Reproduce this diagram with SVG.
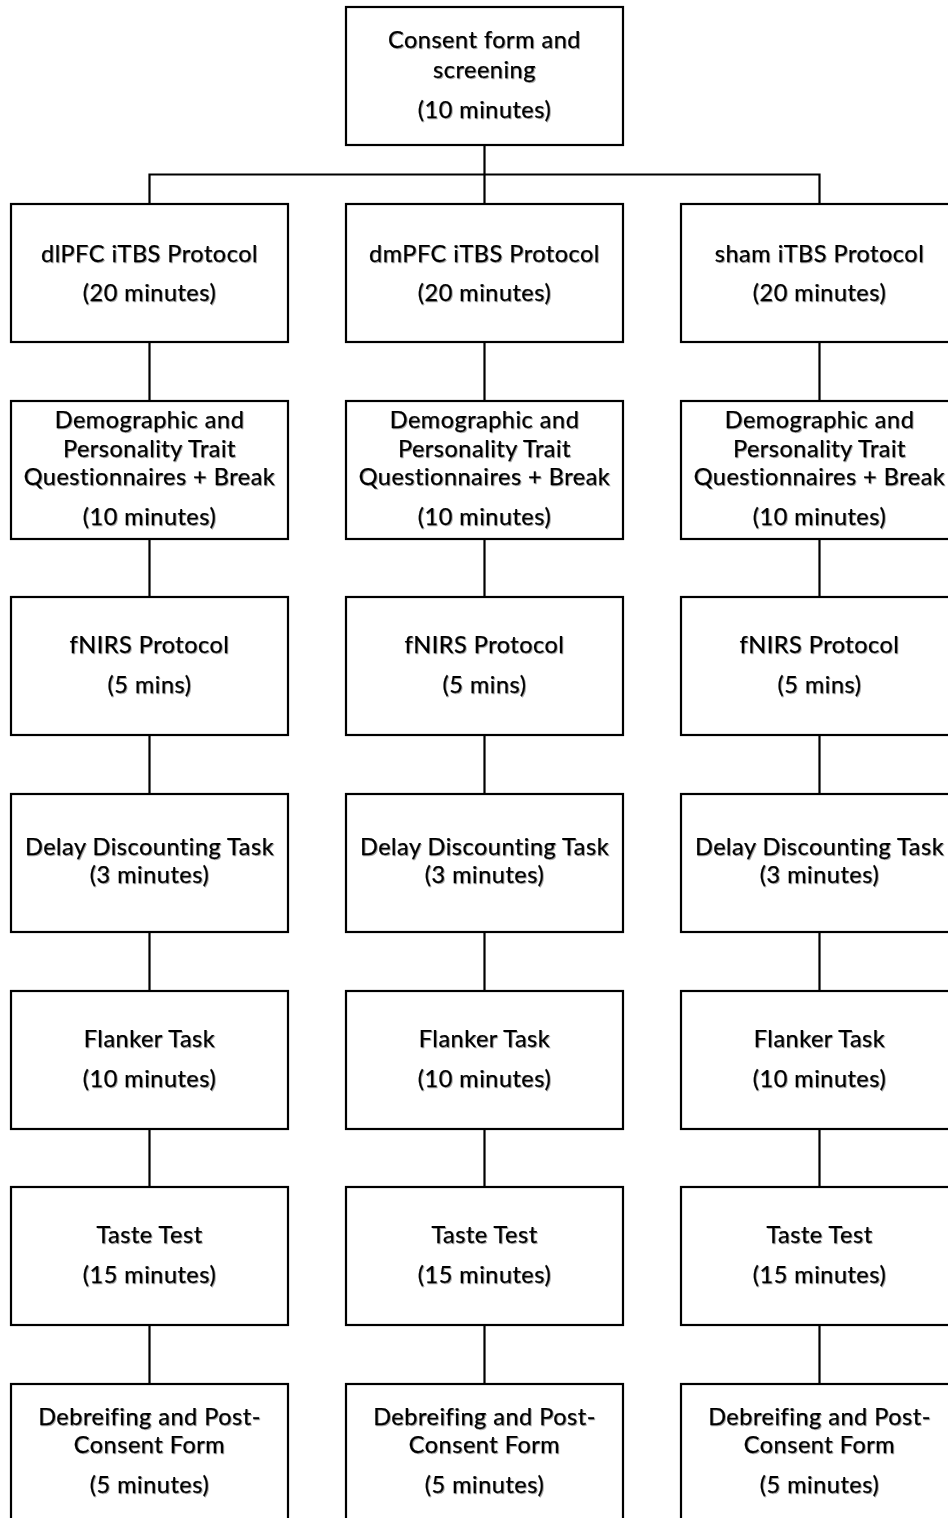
<svg xmlns="http://www.w3.org/2000/svg" width="948" height="1518" viewBox="0 0 948 1518">
<style>
.box{fill:#fff;stroke:#000;stroke-width:2.2}
.con{fill:none;stroke:#000;stroke-width:2.2}
text{font-family:Lato,"Liberation Sans",sans-serif;font-size:23.5px;letter-spacing:0.5px;font-variant-ligatures:none;fill:#000;stroke:#000;stroke-width:0.25;text-anchor:middle;filter:url(#sh)}
</style>
<defs>
<filter id="sh" x="-10%" y="-30%" width="120%" height="160%">
<feDropShadow dx="1" dy="1" stdDeviation="0.6" flood-color="#000" flood-opacity="0.35"/>
</filter>
</defs>
<rect width="948" height="1518" fill="#fff"/>
<g id="connectors">
<path class="con" d="M484.5 145V204M484.5 174.5H149.5V204M484.5 174.5H819.5V204"/>
<path class="con" d="M149.5 342V401M149.5 539V597M149.5 735V794M149.5 932V991M149.5 1129V1187M149.5 1325V1384"/>
<path class="con" d="M484.5 342V401M484.5 539V597M484.5 735V794M484.5 932V991M484.5 1129V1187M484.5 1325V1384"/>
<path class="con" d="M819.5 342V401M819.5 539V597M819.5 735V794M819.5 932V991M819.5 1129V1187M819.5 1325V1384"/>
</g>
<g id="consent"><rect class="box" x="346" y="7" width="277" height="138"/>
<text x="484.5" y="48">Consent form and</text><text x="484.5" y="78">screening</text><text x="484.5" y="118">(10 minutes)</text></g>

<g id="dlpfc"><rect class="box" x="11" y="204" width="277" height="138"/>
<text x="149.5" y="262">dlPFC iTBS Protocol</text><text x="149.5" y="301">(20 minutes)</text></g>
<g id="dmpfc"><rect class="box" x="346" y="204" width="277" height="138"/>
<text x="484.5" y="262">dmPFC iTBS Protocol</text><text x="484.5" y="301">(20 minutes)</text></g>
<g id="sham"><rect class="box" x="681" y="204" width="277" height="138"/>
<text x="819.5" y="262">sham iTBS Protocol</text><text x="819.5" y="301">(20 minutes)</text></g>

<g id="demo-1"><rect class="box" x="11" y="401" width="277" height="138"/>
<text x="149.5" y="428">Demographic and</text><text x="149.5" y="457">Personality Trait</text><text x="149.5" y="485">Questionnaires + Break</text><text x="149.5" y="525">(10 minutes)</text></g>
<g id="demo-2"><rect class="box" x="346" y="401" width="277" height="138"/>
<text x="484.5" y="428">Demographic and</text><text x="484.5" y="457">Personality Trait</text><text x="484.5" y="485">Questionnaires + Break</text><text x="484.5" y="525">(10 minutes)</text></g>
<g id="demo-3"><rect class="box" x="681" y="401" width="277" height="138"/>
<text x="819.5" y="428">Demographic and</text><text x="819.5" y="457">Personality Trait</text><text x="819.5" y="485">Questionnaires + Break</text><text x="819.5" y="525">(10 minutes)</text></g>

<g id="fnirs-1"><rect class="box" x="11" y="597" width="277" height="138"/>
<text x="149.5" y="653">fNIRS Protocol</text><text x="149.5" y="693">(5 mins)</text></g>
<g id="fnirs-2"><rect class="box" x="346" y="597" width="277" height="138"/>
<text x="484.5" y="653">fNIRS Protocol</text><text x="484.5" y="693">(5 mins)</text></g>
<g id="fnirs-3"><rect class="box" x="681" y="597" width="277" height="138"/>
<text x="819.5" y="653">fNIRS Protocol</text><text x="819.5" y="693">(5 mins)</text></g>

<g id="delay-1"><rect class="box" x="11" y="794" width="277" height="138"/>
<text x="149.5" y="855">Delay Discounting Task</text><text x="149.5" y="883">(3 minutes)</text></g>
<g id="delay-2"><rect class="box" x="346" y="794" width="277" height="138"/>
<text x="484.5" y="855">Delay Discounting Task</text><text x="484.5" y="883">(3 minutes)</text></g>
<g id="delay-3"><rect class="box" x="681" y="794" width="277" height="138"/>
<text x="819.5" y="855">Delay Discounting Task</text><text x="819.5" y="883">(3 minutes)</text></g>

<g id="flanker-1"><rect class="box" x="11" y="991" width="277" height="138"/>
<text x="149.5" y="1047">Flanker Task</text><text x="149.5" y="1087">(10 minutes)</text></g>
<g id="flanker-2"><rect class="box" x="346" y="991" width="277" height="138"/>
<text x="484.5" y="1047">Flanker Task</text><text x="484.5" y="1087">(10 minutes)</text></g>
<g id="flanker-3"><rect class="box" x="681" y="991" width="277" height="138"/>
<text x="819.5" y="1047">Flanker Task</text><text x="819.5" y="1087">(10 minutes)</text></g>

<g id="taste-1"><rect class="box" x="11" y="1187" width="277" height="138"/>
<text x="149.5" y="1243">Taste Test</text><text x="149.5" y="1283">(15 minutes)</text></g>
<g id="taste-2"><rect class="box" x="346" y="1187" width="277" height="138"/>
<text x="484.5" y="1243">Taste Test</text><text x="484.5" y="1283">(15 minutes)</text></g>
<g id="taste-3"><rect class="box" x="681" y="1187" width="277" height="138"/>
<text x="819.5" y="1243">Taste Test</text><text x="819.5" y="1283">(15 minutes)</text></g>

<g id="debrief-1"><rect class="box" x="11" y="1384" width="277" height="138"/>
<text x="149.5" y="1425">Debreifing and Post-</text><text x="149.5" y="1453">Consent Form</text><text x="149.5" y="1493">(5 minutes)</text></g>
<g id="debrief-2"><rect class="box" x="346" y="1384" width="277" height="138"/>
<text x="484.5" y="1425">Debreifing and Post-</text><text x="484.5" y="1453">Consent Form</text><text x="484.5" y="1493">(5 minutes)</text></g>
<g id="debrief-3"><rect class="box" x="681" y="1384" width="277" height="138"/>
<text x="819.5" y="1425">Debreifing and Post-</text><text x="819.5" y="1453">Consent Form</text><text x="819.5" y="1493">(5 minutes)</text></g>
</svg>
